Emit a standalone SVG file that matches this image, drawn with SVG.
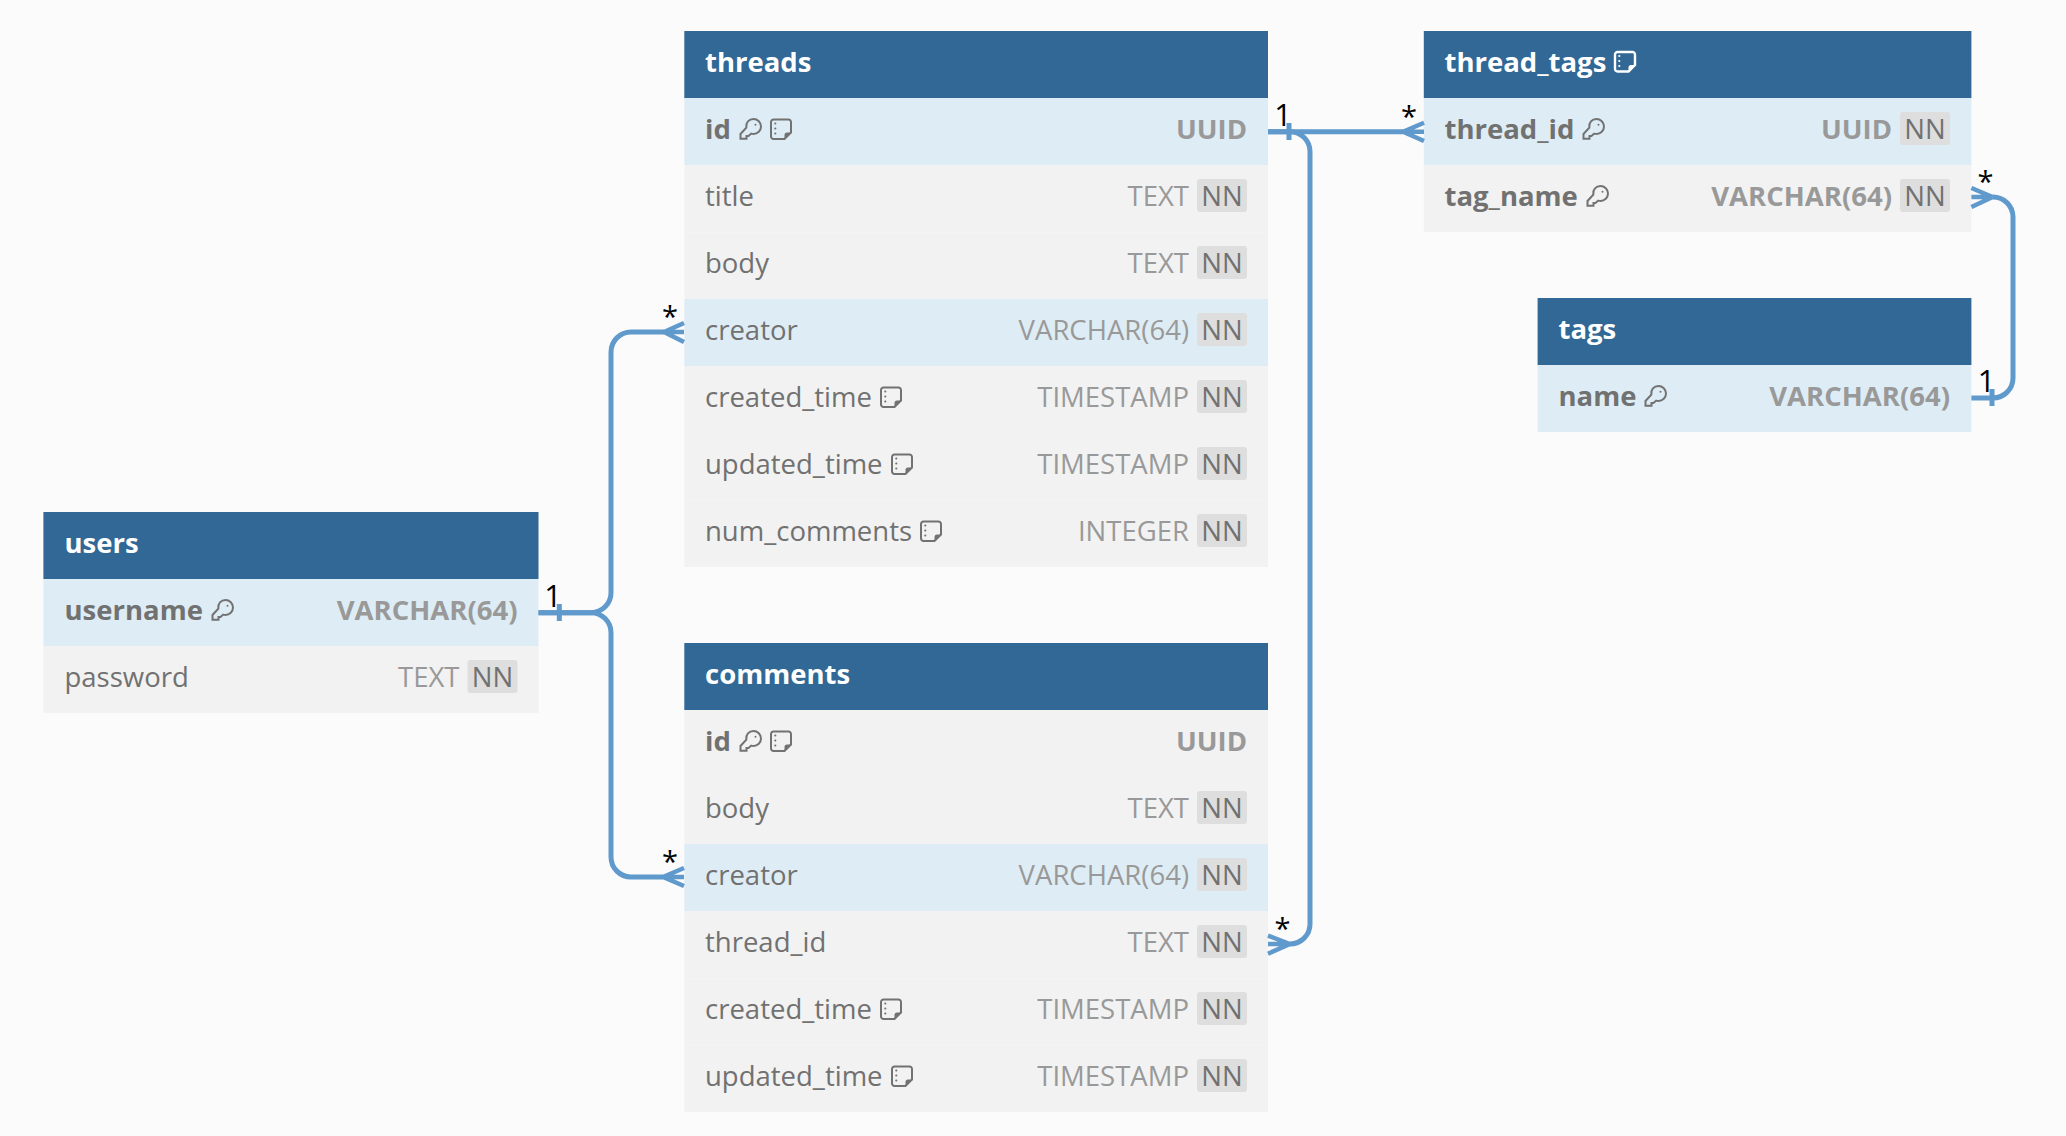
<svg xmlns="http://www.w3.org/2000/svg" width="2066" height="1136" viewBox="0 0 2066 1136">
<style>
text{font-family:"Open Sans","Noto Sans",sans-serif;font-size:27.5px}
.hd{fill:#316896}.pk{fill:#deedf5}.rw{fill:#f2f2f2}.sep{stroke:#f4f4f4;stroke-width:1}
.ht{fill:#fff;font-weight:700}.n{fill:#717171}.nb{fill:#717171;font-weight:700}
.t{fill:#999;text-anchor:end}.tb{fill:#999;text-anchor:end;font-weight:700}
.bd{fill:#dedede}.nn{fill:#717171;text-anchor:middle}
.ic{fill:none;stroke:#727272;stroke-width:2;color:#727272}.icw{fill:none;stroke:#fff;stroke-width:2.4;color:#fff}
.cn{fill:none;stroke:#6099cc;stroke-width:5}.pr{fill:none;stroke:#6099cc;stroke-width:4.5}
.lb{font-size:29px;fill:#000;text-anchor:middle}.one{font-size:30.500px}
</style>
<defs>
<symbol id="key" viewBox="0 0 23 22" width="23" height="22" overflow="visible"><path d="M14.500 1a7.500 7.500 0 0 1 0 15c-.8 0-1.600-.1-2.300-.4L9.500 18H7.500v2.800H1.500v-4.800L7.300 9.600C6.600 4.500 10 1 14.500 1z"/><circle cx="16.500" cy="6.800" r="1" fill="currentColor" stroke="none"/></symbol>
<symbol id="note" viewBox="0 0 23 22" width="23" height="22" overflow="visible"><path d="M3.500 1.500h15a2.500 2.500 0 0 1 2.500 2.500v10.500l-6.500 6.500H3.500a2.500 2.500 0 0 1-2.500-2.500V4a2.500 2.500 0 0 1 2.500-2.500z"/><path d="M21 14.500h-4a2.500 2.500 0 0 0-2.500 2.500v4z" fill="currentColor" stroke="none"/><circle cx="5.300" cy="5.500" r="1.100" fill="currentColor" stroke="none"/><circle cx="5.300" cy="10.500" r="1.100" fill="currentColor" stroke="none"/><circle cx="5.300" cy="15.500" r="1.100" fill="currentColor" stroke="none"/></symbol>
</defs>
<rect width="2066" height="1136" fill="#fbfbfb"/>

<g id="table-threads">
<rect class="hd" x="684.300" y="31" width="583.700" height="67"/>
<rect class="pk" x="684.300" y="98" width="583.700" height="67"/>
<rect class="rw" x="684.300" y="165" width="583.700" height="134"/>
<rect class="pk" x="684.300" y="299" width="583.700" height="67"/>
<rect class="rw" x="684.300" y="366" width="583.700" height="201"/>
<path class="sep" d="M684.300 232.500H1268M684.300 433.500H1268M684.300 500.500H1268"/>
<text class="ht" x="705" y="71.500">threads</text>
<text class="nb" x="705" y="138.500">id</text><use href="#key" class="ic" x="739" y="118"/><use href="#note" class="ic" x="770" y="118"/><text class="tb" x="1247" y="138.500">UUID</text>
<text class="n" x="705" y="205.500">title</text><text class="t" x="1189" y="205.500">TEXT</text><rect class="bd" x="1197" y="179" width="50" height="33" rx="3"/><text class="nn" x="1222" y="205.500">NN</text>
<text class="n" x="705" y="272.500">body</text><text class="t" x="1189" y="272.500">TEXT</text><rect class="bd" x="1197" y="246" width="50" height="33" rx="3"/><text class="nn" x="1222" y="272.500">NN</text>
<text class="n" x="705" y="339.500">creator</text><text class="t" x="1189" y="339.500">VARCHAR(64)</text><rect class="bd" x="1197" y="313" width="50" height="33" rx="3"/><text class="nn" x="1222" y="339.500">NN</text>
<text class="n" x="705" y="406.500">created_time</text><use href="#note" class="ic" x="880" y="386"/><text class="t" x="1189" y="406.500">TIMESTAMP</text><rect class="bd" x="1197" y="380" width="50" height="33" rx="3"/><text class="nn" x="1222" y="406.500">NN</text>
<text class="n" x="705" y="473.500">updated_time</text><use href="#note" class="ic" x="891" y="453"/><text class="t" x="1189" y="473.500">TIMESTAMP</text><rect class="bd" x="1197" y="447" width="50" height="33" rx="3"/><text class="nn" x="1222" y="473.500">NN</text>
<text class="n" x="705" y="540.500">num_comments</text><use href="#note" class="ic" x="920" y="520"/><text class="t" x="1189" y="540.500">INTEGER</text><rect class="bd" x="1197" y="514" width="50" height="33" rx="3"/><text class="nn" x="1222" y="540.500">NN</text>
</g>

<g id="table-comments">
<rect class="hd" x="684.300" y="643" width="583.700" height="67"/>
<rect class="rw" x="684.300" y="710" width="583.700" height="134"/>
<rect class="pk" x="684.300" y="844" width="583.700" height="67"/>
<rect class="rw" x="684.300" y="911" width="583.700" height="201"/>
<path class="sep" d="M684.300 777.500H1268M684.300 978.500H1268M684.300 1045.500H1268"/>
<text class="ht" x="705" y="683.500">comments</text>
<text class="nb" x="705" y="750.500">id</text><use href="#key" class="ic" x="739" y="730"/><use href="#note" class="ic" x="770" y="730"/><text class="tb" x="1247" y="750.500">UUID</text>
<text class="n" x="705" y="817.500">body</text><text class="t" x="1189" y="817.500">TEXT</text><rect class="bd" x="1197" y="791" width="50" height="33" rx="3"/><text class="nn" x="1222" y="817.500">NN</text>
<text class="n" x="705" y="884.500">creator</text><text class="t" x="1189" y="884.500">VARCHAR(64)</text><rect class="bd" x="1197" y="858" width="50" height="33" rx="3"/><text class="nn" x="1222" y="884.500">NN</text>
<text class="n" x="705" y="951.500">thread_id</text><text class="t" x="1189" y="951.500">TEXT</text><rect class="bd" x="1197" y="925" width="50" height="33" rx="3"/><text class="nn" x="1222" y="951.500">NN</text>
<text class="n" x="705" y="1018.500">created_time</text><use href="#note" class="ic" x="880" y="998"/><text class="t" x="1189" y="1018.500">TIMESTAMP</text><rect class="bd" x="1197" y="992" width="50" height="33" rx="3"/><text class="nn" x="1222" y="1018.500">NN</text>
<text class="n" x="705" y="1085.500">updated_time</text><use href="#note" class="ic" x="891" y="1065"/><text class="t" x="1189" y="1085.500">TIMESTAMP</text><rect class="bd" x="1197" y="1059" width="50" height="33" rx="3"/><text class="nn" x="1222" y="1085.500">NN</text>
</g>

<g id="table-users">
<rect class="hd" x="43.400" y="512" width="495.100" height="67"/>
<rect class="pk" x="43.400" y="579" width="495.100" height="67"/>
<rect class="rw" x="43.400" y="646" width="495.100" height="67"/>
<text class="ht" x="64.500" y="552.500">users</text>
<text class="nb" x="64.500" y="619.500">username</text><use href="#key" class="ic" x="211" y="599"/><text class="tb" x="517.500" y="619.500">VARCHAR(64)</text>
<text class="n" x="64.500" y="686.500">password</text><text class="t" x="459.500" y="686.500">TEXT</text><rect class="bd" x="467.500" y="660" width="50" height="33" rx="3"/><text class="nn" x="492.500" y="686.500">NN</text>
</g>

<g id="table-thread_tags">
<rect class="hd" x="1423.800" y="31" width="547.600" height="67"/>
<rect class="pk" x="1423.800" y="98" width="547.600" height="67"/>
<rect class="rw" x="1423.800" y="165" width="547.600" height="67"/>
<text class="ht" x="1444.500" y="71.500">thread_tags</text><use href="#note" class="icw" x="1614" y="50.500"/>
<text class="nb" x="1444.500" y="138.500">thread_id</text><use href="#key" class="ic" x="1582" y="118"/><text class="tb" x="1892" y="138.500">UUID</text><rect class="bd" x="1900" y="112" width="50" height="33" rx="3"/><text class="nn" x="1925" y="138.500">NN</text>
<text class="nb" x="1444.500" y="205.500">tag_name</text><use href="#key" class="ic" x="1586" y="185"/><text class="tb" x="1892" y="205.500">VARCHAR(64)</text><rect class="bd" x="1900" y="179" width="50" height="33" rx="3"/><text class="nn" x="1925" y="205.500">NN</text>
</g>

<g id="table-tags">
<rect class="hd" x="1537.600" y="298" width="433.800" height="67"/>
<rect class="pk" x="1537.600" y="365" width="433.800" height="67"/>
<text class="ht" x="1558.500" y="338.500">tags</text>
<text class="nb" x="1558.500" y="405.500">name</text><use href="#key" class="ic" x="1644" y="385"/><text class="tb" x="1950" y="405.500">VARCHAR(64)</text>
</g>

<g id="connectors">
<path class="cn" d="M538.500 612.700H591A20 20 0 0 0 611 592.700V352A20 20 0 0 1 631 332H664M559.300 604V621"/>
<path class="pr" d="M684 332H664M664 332L684 323M664 332L684 342"/>
<path class="cn" d="M538.500 612.700H591A20 20 0 0 1 611 632.700V857A20 20 0 0 0 631 877H663"/>
<path class="pr" d="M684 877H663M663 877L684 868M663 877L684 886"/>
<path class="cn" d="M1268 131.700H1290A20 20 0 0 1 1310 151.700V924A20 20 0 0 1 1290 944"/>
<path class="pr" d="M1290 944H1268M1290 944L1268 935.700M1290 944L1268 953.700"/>
<path class="cn" d="M1268 131.700H1403M1289 123V140"/>
<path class="pr" d="M1424 131.700H1403M1403 131.700L1424 122.700M1403 131.700L1424 141"/>
<path class="cn" d="M1992.600 197H1993A20 20 0 0 1 2013 217V378A20 20 0 0 1 1993 398H1971.400M1992 389V406"/>
<path class="pr" d="M1992.600 197H1971.400M1992.600 197L1971.400 188M1992.600 197L1971.400 207"/>
<text class="lb one" x="1283" y="126">1</text><text class="lb" x="1409" y="127">*</text>
<text class="lb one" x="553" y="607">1</text><text class="lb" x="670" y="327">*</text><text class="lb" x="670" y="872">*</text>
<text class="lb" x="1282.500" y="939">*</text><text class="lb" x="1985.500" y="192">*</text><text class="lb one" x="1986.500" y="392">1</text>
</g>
</svg>
